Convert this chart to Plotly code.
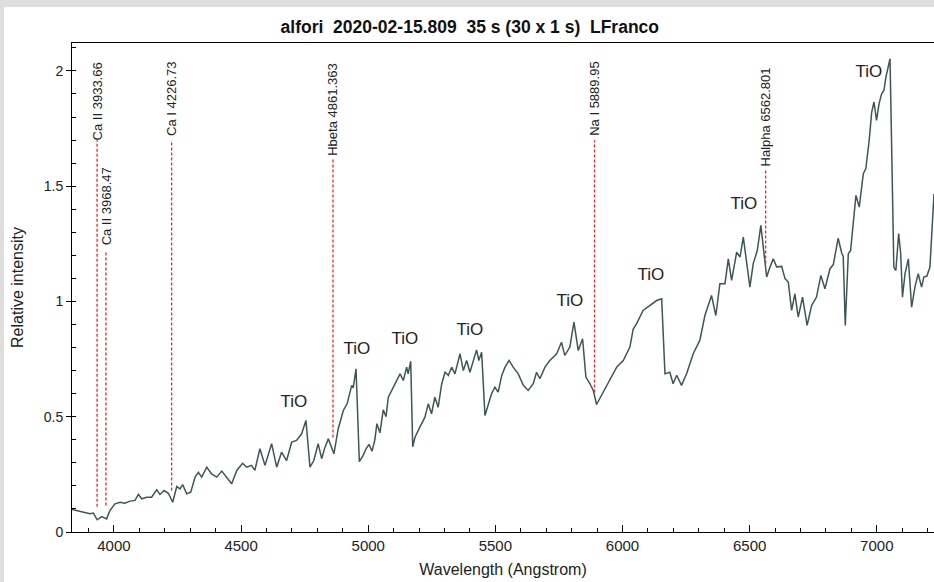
import numpy as np
import plotly.graph_objects as go

wavelength = [3835, 3866, 3886, 3906, 3919, 3934, 3952, 3971, 3984, 4004, 4024, 4043, 4063, 4083, 4096, 4109, 4129, 4148, 4168, 4181,
              4197, 4214, 4231, 4247, 4260, 4270, 4286, 4302, 4319, 4332, 4345, 4365, 4384, 4404, 4424, 4443, 4463, 4483, 4506, 4522,
              4541, 4554, 4574, 4594, 4620, 4640, 4659, 4679, 4699, 4718, 4738, 4755, 4771, 4786, 4803, 4817, 4830, 4843, 4856, 4865,
              4882, 4902, 4917, 4935, 4941, 4952, 4965, 4979, 4991, 5003, 5015, 5026, 5034, 5046, 5059, 5070, 5079, 5092, 5112, 5125,
              5138, 5151, 5157, 5167, 5175, 5184, 5203, 5223, 5236, 5249, 5262, 5275, 5289, 5302, 5315, 5328, 5341, 5361, 5374, 5387,
              5400, 5413, 5426, 5435, 5446, 5459, 5472, 5485, 5498, 5511, 5525, 5538, 5554, 5570, 5590, 5610, 5629, 5649, 5662, 5675,
              5695, 5714, 5741, 5760, 5773, 5793, 5809, 5826, 5843, 5856, 5872, 5885, 5898, 5918, 5937, 5957, 5977, 6003, 6029, 6042,
              6055, 6081, 6108, 6121, 6134, 6154, 6167, 6186, 6199, 6213, 6232, 6252, 6278, 6304, 6324, 6350, 6367, 6383, 6403, 6416,
              6429, 6449, 6462, 6475, 6501, 6514, 6530, 6544, 6567, 6580, 6593, 6606, 6626, 6639, 6652, 6665, 6678, 6691, 6708, 6726,
              6744, 6763, 6780, 6796, 6816, 6829, 6848, 6862, 6868, 6876, 6888, 6897, 6918, 6931, 6947, 6957, 6970, 6980, 6989, 6999,
              7009, 7019, 7028, 7036, 7041, 7052, 7058, 7067, 7075, 7086, 7094, 7101, 7111, 7124, 7137, 7150, 7163, 7176, 7185, 7197,
              7209, 7219, 7225]

intensity = [0.098, 0.090, 0.086, 0.079, 0.082, 0.053, 0.067, 0.057, 0.093, 0.122, 0.129, 0.125, 0.134, 0.137, 0.163, 0.144, 0.151, 0.151, 0.183, 0.163,
             0.180, 0.168, 0.129, 0.197, 0.187, 0.206, 0.166, 0.173, 0.238, 0.259, 0.238, 0.281, 0.252, 0.238, 0.264, 0.238, 0.209, 0.267, 0.298, 0.281,
             0.289, 0.267, 0.361, 0.289, 0.383, 0.281, 0.346, 0.310, 0.390, 0.397, 0.426, 0.484, 0.281, 0.310, 0.383, 0.318, 0.368, 0.404, 0.368, 0.339,
             0.448, 0.527, 0.556, 0.636, 0.625, 0.708, 0.305, 0.330, 0.360, 0.380, 0.350, 0.400, 0.470, 0.430, 0.530, 0.500, 0.585, 0.614, 0.657, 0.686,
             0.657, 0.715, 0.686, 0.740, 0.370, 0.411, 0.455, 0.498, 0.556, 0.513, 0.585, 0.541, 0.643, 0.693, 0.679, 0.715, 0.686, 0.773, 0.700, 0.744,
             0.693, 0.740, 0.790, 0.744, 0.780, 0.505, 0.556, 0.600, 0.628, 0.607, 0.679, 0.715, 0.744, 0.715, 0.686, 0.636, 0.614, 0.643, 0.693, 0.665,
             0.715, 0.744, 0.773, 0.823, 0.766, 0.802, 0.910, 0.787, 0.838, 0.672, 0.643, 0.614, 0.553, 0.595, 0.636, 0.672, 0.715, 0.744, 0.802, 0.880,
             0.903, 0.961, 0.983, 0.997, 1.004, 1.012, 0.686, 0.693, 0.643, 0.680, 0.636, 0.686, 0.773, 0.831, 0.939, 1.026, 0.939, 1.077, 1.077, 1.185,
             1.091, 1.214, 1.192, 1.279, 1.062, 1.164, 1.221, 1.330, 1.106, 1.149, 1.185, 1.150, 1.152, 1.099, 1.084, 0.961, 1.033, 0.932, 1.019, 0.896,
             0.983, 1.019, 1.113, 1.055, 1.142, 1.160, 1.274, 1.210, 1.195, 0.896, 1.207, 1.221, 1.460, 1.409, 1.554, 1.576, 1.698, 1.821, 1.865, 1.785,
             1.858, 1.901, 1.915, 1.973, 2.002, 2.053, 1.698, 1.149, 1.134, 1.294, 1.207, 1.019, 1.120, 1.185, 0.975, 1.062, 1.120, 1.062, 1.106, 1.110,
             1.149, 1.380, 1.467]

line_wavelengths = [3933.66, 3968.47, 4226.73, 4861.363, 5889.95, 6562.801]
line_names = ["Ca II 3933.66", "Ca II 3968.47", "Ca I 4226.73", "Hbeta 4861.363", "Na I 5889.95", "Halpha 6562.801"]
line_bottoms = [0.11, 0.115, 0.18, 0.41, 0.605, 1.165]
line_tops = [1.699, 1.221, 1.699, 1.620, 1.699, 1.577]
label_tops = [2.046, 1.590, 2.046, 2.046, 2.046, 2.024]

tio_wavelengths = [4708, 4955, 5144, 5400, 5793, 6112, 6477, 6969]
tio_heights = [0.562, 0.792, 0.835, 0.874, 1.000, 1.112, 1.418, 1.993]
tio_text = ["TiO"] * len(tio_wavelengths)

x_range = [3835, 7225]
y_range = [0, 2.121]
x_ticks = [4000, 4500, 5000, 5500, 6000, 6500, 7000]
y_ticks = [0, 0.5, 1, 1.5, 2]
y_tick_labels = ["0", "0.5", "1", "1.5", "2"]

title_text = "alfori\u00a0\u00a02020-02-15.809\u00a0\u00a035\u00a0s\u00a0(30\u00a0x\u00a01\u00a0s)\u00a0\u00a0LFranco"

FONT = "Liberation Sans, Arial, sans-serif"
W, H = 934, 582
ML, MR, MT, MB = 72, 0, 43, 50
PW, PH = W - ML - MR, H - MT - MB

fig = go.Figure()

fig.add_trace(go.Scatter(
    x=wavelength, y=intensity, mode="lines",
    line=dict(color="#3e5656", width=1.5),
    hoverinfo="skip", showlegend=False,
))

fig.add_trace(go.Scatter(
    x=tio_wavelengths, y=tio_heights, mode="text", text=tio_text,
    textposition="middle center",
    textfont=dict(family=FONT, size=17, color="#222222"),
    hoverinfo="skip", showlegend=False,
))

shapes = []


def px_to_paper_x(px):
    return (px - ML) / PW


def py_to_paper_y(py):
    return (H - MB - py) / PH


shapes.append(dict(type="rect", xref="paper", yref="paper", layer="below",
                   x0=px_to_paper_x(4), x1=px_to_paper_x(W), y0=py_to_paper_y(H), y1=py_to_paper_y(7),
                   fillcolor="white", line=dict(width=0)))

annotations = []
for wl, name, yb, yt, lt in zip(line_wavelengths, line_names, line_bottoms, line_tops, label_tops):
    shapes.append(dict(type="line", xref="x", yref="y", x0=wl, x1=wl, y0=yb, y1=yt,
                       line=dict(color="#e8262b", width=1.3, dash="3px,2px")))
    annotations.append(dict(x=wl, y=lt, xref="x", yref="y", text=name, showarrow=False,
                            textangle=-90, xanchor="center", yanchor="top",
                            font=dict(family=FONT, size=13, color="#222222")))

fig.update_layout(
    width=W, height=H,
    margin=dict(l=ML, r=MR, t=MT, b=MB, pad=0),
    paper_bgcolor="#dedede",
    plot_bgcolor="white",
    shapes=shapes,
    annotations=annotations,
    showlegend=False,
    title=dict(text=title_text, x=0.503, xref="container", xanchor="center",
               y=1 - 27 / H, yref="container", yanchor="middle",
               font=dict(family=FONT, size=17.5, color="#111111", weight="bold")),
    font=dict(family=FONT, color="#222222"),
)

fig.update_xaxes(
    range=x_range, tickmode="array", tickvals=x_ticks, ticktext=[str(v) for v in x_ticks],
    ticks="inside", ticklen=7, tickwidth=1, tickcolor="black",
    minor=dict(dtick=100, ticks="inside", ticklen=4, tickcolor="black", tick0=0),
    showline=True, linecolor="black", linewidth=1, mirror=True,
    showgrid=False, zeroline=False, automargin=False,
    tickfont=dict(family=FONT, size=15, color="#222222"),
    title=dict(text="Wavelength (Angstrom)", font=dict(family=FONT, size=16, color="#222222"), standoff=10),
)

fig.update_yaxes(
    range=y_range, tickmode="array", tickvals=y_ticks, ticktext=y_tick_labels,
    ticks="outside", ticklen=5, tickwidth=1, tickcolor="black",
    minor=dict(dtick=0.1, ticks="inside", ticklen=4, tickcolor="black", tick0=0),
    showline=True, linecolor="black", linewidth=1, mirror=False,
    showgrid=False, zeroline=False, automargin=False,
    tickfont=dict(family=FONT, size=14, color="#222222"),
    title=dict(text="Relative intensity", font=dict(family=FONT, size=16, color="#222222"), standoff=16),
)

fig.write_html(
    "out.html",
    config={"displayModeBar": False},
    post_script="document.body.style.margin='0';document.body.style.overflow='hidden';",
)
